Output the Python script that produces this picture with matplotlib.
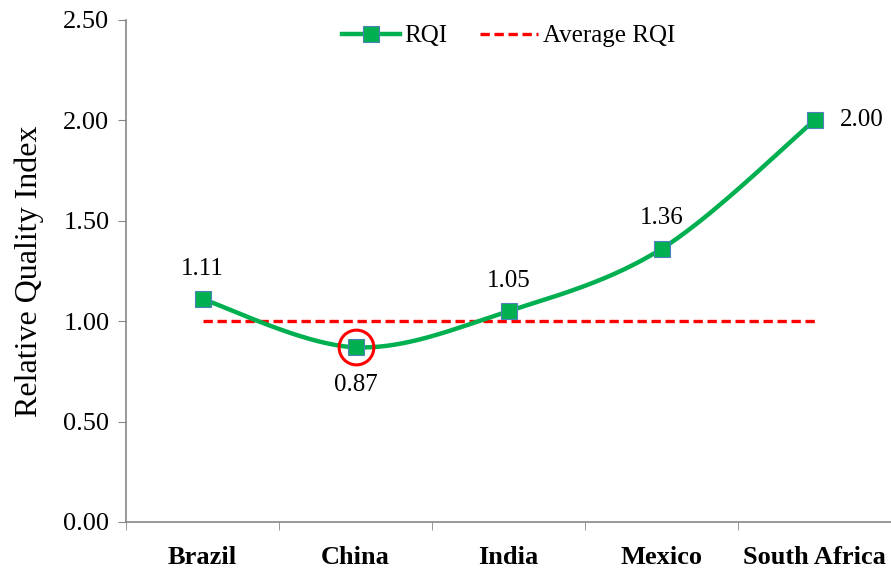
import matplotlib.pyplot as plt
import numpy as np

# data
countries = ['Brazil', 'China', 'India', 'Mexico', 'South Africa']
rqi = [1.11, 0.87, 1.05, 1.36, 2.00]
avg_rqi = 1.00

plt.rcParams['font.family'] = ['Liberation Serif', 'DejaVu Serif']

fig = plt.figure(figsize=(8.91, 5.73), dpi=100)
ax = fig.add_axes([126 / 891, 51 / 573, 765 / 891, 502 / 573])

x = np.arange(len(countries))
y = np.array(rqi)

# smoothed line like excel (catmull-rom through the points)
px = np.concatenate([[x[0]], x, [x[-1]]]).astype(float)
py = np.concatenate([[y[0]], y, [y[-1]]])
sx, sy = [], []
t = np.linspace(0, 1, 40)
for i in range(1, len(px) - 2):
    for p, out in ((px, sx), (py, sy)):
        p0, p1, p2, p3 = p[i - 1], p[i], p[i + 1], p[i + 2]
        out.extend(0.5 * ((2 * p1) + (-p0 + p2) * t + (2 * p0 - 5 * p1 + 4 * p2 - p3) * t ** 2
                          + (-p0 + 3 * p1 - 3 * p2 + p3) * t ** 3))

green = '#00B050'
ax.plot(sx, sy, color=green, lw=3.2, zorder=3)
ax.plot(x, y, ls='none', marker='s', ms=12, mfc=green, mec='#4F81BD', mew=0.8, zorder=4)
ax.plot([], [], color=green, lw=3.2, marker='s', ms=12, mfc=green, mec='#4F81BD', mew=0.8, label='RQI')
ax.plot([x[0], x[-1]], [avg_rqi, avg_rqi], color='#FF0000', ls=(0, (2.8, 1.4)), lw=2.4,
        label='Average RQI', zorder=2)

# highlight China
ax.plot(x[1], y[1], ls='none', marker='o', ms=25, mfc='none', mec='#FF0000', mew=2.2, zorder=5)

# data labels
for i, v in enumerate(rqi):
    if i == 1:
        ax.annotate('%.2f' % v, (x[i], v), xytext=(0, -19), textcoords='offset points',
                    ha='center', va='top', fontsize=18)
    elif i == len(rqi) - 1:
        ax.annotate('%.2f' % v, (x[i], v), xytext=(18, 0), textcoords='offset points',
                    ha='left', va='center', fontsize=18)
    else:
        ax.annotate('%.2f' % v, (x[i], v), xytext=(0, 14), textcoords='offset points',
                    ha='center', va='bottom', fontsize=18)

ax.set_xlim(-0.5, len(countries) - 0.5)
ax.set_ylim(0, 2.5)
ax.set_yticks(np.arange(0, 2.51, 0.5))
ax.set_yticklabels(['%.2f' % v for v in np.arange(0, 2.51, 0.5)], fontsize=19)
ax.set_xticks(x)
ax.set_xticklabels(countries, fontsize=19, fontweight='bold')
ax.set_xticks(np.arange(-0.5, len(countries), 1), minor=True)
ax.tick_params(axis='x', which='major', length=0, pad=17)
ax.tick_params(axis='x', which='minor', length=6, color='#868686')
ax.tick_params(axis='y', length=6, color='#868686', pad=6)
ax.set_ylabel('Relative Quality Index', fontsize=23, labelpad=14)

for s in ['top', 'right']:
    ax.spines[s].set_visible(False)
for s in ['left', 'bottom']:
    ax.spines[s].set_color('#868686')
    ax.spines[s].set_linewidth(1.2)

ax.legend(loc='upper center', bbox_to_anchor=(0.5, 1.035), ncol=2, frameon=False,
          fontsize=18, handlelength=2.3, columnspacing=1.3, handletextpad=0.2)

fig.savefig('out.png', dpi=100)
